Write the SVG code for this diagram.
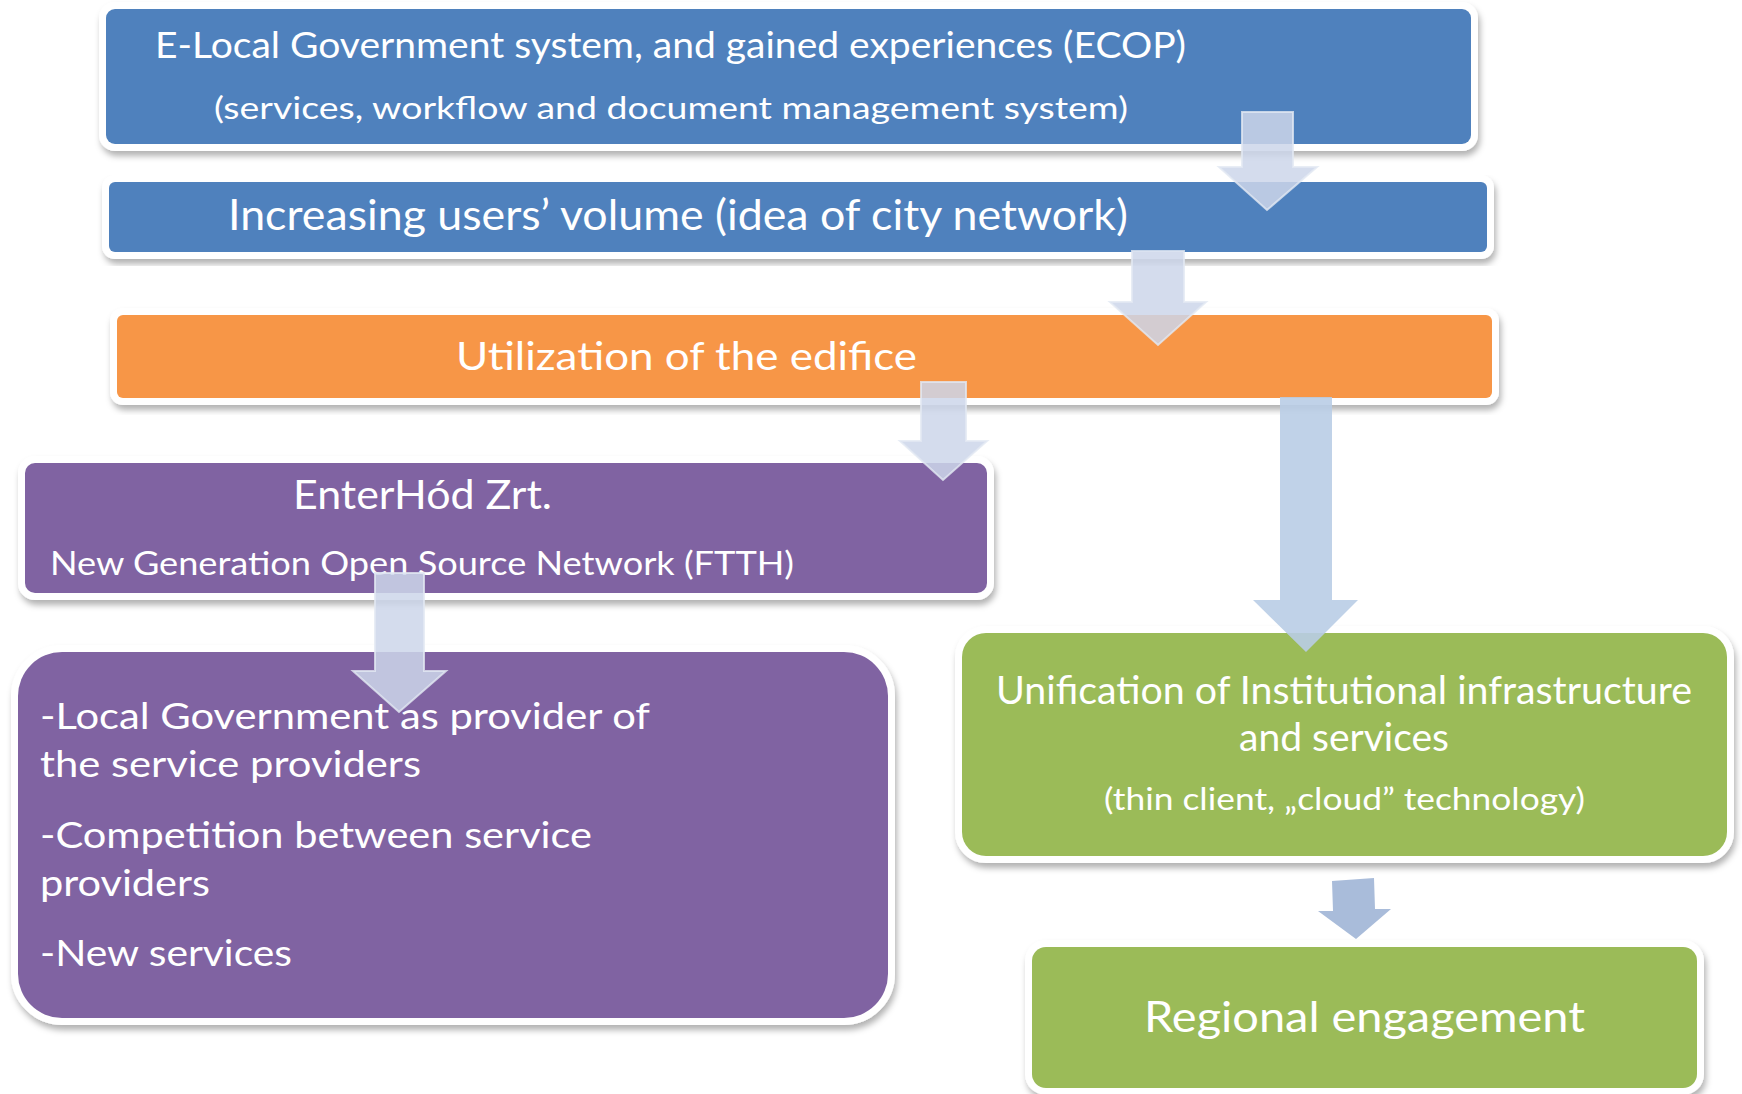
<svg xmlns="http://www.w3.org/2000/svg" width="1742" height="1094" viewBox="0 0 1742 1094">
<defs>
<filter id="sh" x="-5%" y="-10%" width="110%" height="130%">
<feDropShadow dx="2" dy="5" stdDeviation="3" flood-color="#000" flood-opacity="0.3"/>
</filter>
</defs>
<style>
.box{stroke:#fff;stroke-width:14;paint-order:stroke;filter:url(#sh)}
.blue{fill:#4F81BD}.orange{fill:#F79646}.purple{fill:#8064A2}.green{fill:#9BBB59}
text{font-family:Lato,"Open Sans","Liberation Sans",sans-serif;fill:#fff}
.arr{fill:#CDD6EA;fill-opacity:0.85;stroke:#E2E8F2;stroke-width:2;stroke-opacity:0.8}
.arrB{fill:#B9CDE5;fill-opacity:0.9}
.arrC{fill:#A9BCDA}
</style>
<rect width="1742" height="1094" fill="#fff"/>
<g id="n1">
<rect class="box blue" x="106" y="9" width="1365" height="135" rx="9"/>
<text x="155" y="58" font-size="37" textLength="1031" lengthAdjust="spacingAndGlyphs">E-Local Government system, and gained experiences (ECOP)</text>
<text x="214" y="119" font-size="31" textLength="914" lengthAdjust="spacingAndGlyphs">(services, workflow and document management system)</text>
</g>
<g id="n2">
<rect class="box blue" x="109" y="182" width="1378" height="70" rx="6"/>
<text x="228" y="230" font-size="42" textLength="900" lengthAdjust="spacingAndGlyphs">Increasing users’ volume (idea of city network)</text>
</g>
<g id="n3">
<rect class="box orange" x="117" y="315" width="1375" height="83" rx="6"/>
<text x="456" y="370" font-size="39" textLength="461" lengthAdjust="spacingAndGlyphs">Utilization of the edifice</text>
</g>
<g id="n4">
<rect class="box purple" x="25" y="463" width="962" height="130" rx="10"/>
<text x="293" y="509" font-size="40" textLength="259" lengthAdjust="spacingAndGlyphs">EnterHód Zrt.</text>
<text x="50" y="575" font-size="33" textLength="744" lengthAdjust="spacingAndGlyphs">New Generation Open Source Network (FTTH)</text>
</g>
<g id="n5">
<rect class="box purple" x="18" y="652" width="870" height="366" rx="44"/>
<text x="40" y="729" font-size="37" textLength="610" lengthAdjust="spacingAndGlyphs">-Local Government as provider of</text>
<text x="40" y="777" font-size="37" textLength="381" lengthAdjust="spacingAndGlyphs">the service providers</text>
<text x="40" y="848" font-size="37" textLength="552" lengthAdjust="spacingAndGlyphs">-Competition between service</text>
<text x="40" y="896" font-size="37" textLength="170" lengthAdjust="spacingAndGlyphs">providers</text>
<text x="40" y="966" font-size="37" textLength="252" lengthAdjust="spacingAndGlyphs">-New services</text>
</g>
<g id="n6">
<rect class="box green" x="962" y="633" width="765" height="223" rx="24"/>
<text x="996" y="704" font-size="39" textLength="696" lengthAdjust="spacingAndGlyphs">Unification of Institutional infrastructure</text>
<text x="1239" y="751" font-size="39" textLength="210" lengthAdjust="spacingAndGlyphs">and services</text>
<text x="1104" y="810" font-size="31" textLength="481" lengthAdjust="spacingAndGlyphs">(thin client, „cloud” technology)</text>
</g>
<g id="n7">
<rect class="box green" x="1032" y="947" width="665" height="141" rx="14"/>
<text x="1144" y="1032" font-size="42" textLength="441" lengthAdjust="spacingAndGlyphs">Regional engagement</text>
</g>
<g id="connectors">
<polygon class="arr" points="1242,112 1293,112 1293,167 1317,167 1267,210 1219,167 1242,167"/>
<polygon class="arr" points="1132,251 1184,251 1184,302 1206,302 1158,345 1110,302 1132,302"/>
<polygon class="arr" points="921,382 966,382 966,441 987,441 943,480 900,441 921,441"/>
<polygon class="arr" points="375,573 424,573 424,671 446,671 399,712 353,671 375,671"/>
<polygon class="arrB" points="1280,397 1332,397 1332,600 1358,600 1306,652 1253,600 1280,600"/>
<polygon class="arrC" points="1332,881 1374,878 1375,909 1391,909 1356,939 1318,911 1333,911"/>
</g>
</svg>
